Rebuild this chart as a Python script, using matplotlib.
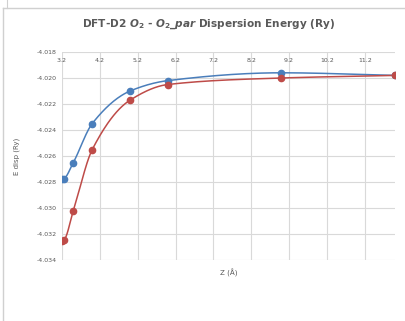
import matplotlib
matplotlib.use('Agg')
import matplotlib.pyplot as plt
import numpy as np

# values
z = [3.2, 3.25, 3.5, 4.0, 5.0, 6.0, 9.0, 12.0]
e_o2 = [-4.02780, -4.02775, -4.02650, -4.02350, -4.02100, -4.02020, -4.01960, -4.01980]
e_o2_par = [-4.03250, -4.03245, -4.03020, -4.02550, -4.02170, -4.02050, -4.02000, -4.01980]
x_ticks = [3.2, 4.2, 5.2, 6.2, 7.2, 8.2, 9.2, 10.2, 11.2]
y_ticks = [-4.034, -4.032, -4.030, -4.028, -4.026, -4.024, -4.022, -4.020, -4.018]

blue = '#4a7ebb'
red = '#be4b48'
text_grey = '#595959'

plt.rcParams['mathtext.fontset'] = 'custom'
plt.rcParams['mathtext.it'] = 'DejaVu Sans:italic:bold'
plt.rcParams['mathtext.rm'] = 'DejaVu Sans:bold'


def smooth(xs, ys, n=40):
    # monotone hermite (pchip style) curve through the points
    xs = np.asarray(xs, float)
    ys = np.asarray(ys, float)
    m = len(xs)
    h = np.diff(xs)
    d = np.diff(ys) / h
    s = np.zeros(m)
    for i in range(1, m - 1):
        if d[i - 1] * d[i] > 0:
            w1 = 2 * h[i] + h[i - 1]
            w2 = h[i] + 2 * h[i - 1]
            s[i] = (w1 + w2) / (w1 / d[i - 1] + w2 / d[i])
    s[0] = d[0]
    s[-1] = d[-1]
    px, py = [], []
    t = np.linspace(0, 1, n)
    h00 = 2 * t ** 3 - 3 * t ** 2 + 1
    h10 = t ** 3 - 2 * t ** 2 + t
    h01 = -2 * t ** 3 + 3 * t ** 2
    h11 = t ** 3 - t ** 2
    for i in range(m - 1):
        px.extend(xs[i] + t * h[i])
        py.extend(h00 * ys[i] + h10 * h[i] * s[i] + h01 * ys[i + 1] + h11 * h[i] * s[i + 1])
    return px, py


fig = plt.figure(figsize=(4.06, 3.21), dpi=100)

# chart frame lines like the spreadsheet screenshot
fig.add_artist(plt.Line2D([3 / 406, 1], [1 - 7.5 / 321] * 2, color='#d0d0d0', lw=1))
fig.add_artist(plt.Line2D([3 / 406] * 2, [0, 1 - 7.5 / 321], color='#d0d0d0', lw=1))
fig.add_artist(plt.Line2D([7 / 406] * 2, [1 - 7.5 / 321, 1], color='#d0d0d0', lw=0.8))

ax = fig.add_axes([62 / 406, 61 / 321, 333 / 406, 208 / 321])

for ys, col in [(e_o2, blue), (e_o2_par, red)]:
    sx, sy = smooth(z, ys)
    ax.plot(sx, sy, color=col, lw=1.1, zorder=3)
    ax.plot(z, ys, 'o', color=col, ms=4.5, mec=col, zorder=4)

ax.set_xlim(3.2, 12.0)
ax.set_ylim(-4.034, -4.018)
ax.set_xticks(x_ticks)
ax.set_xticklabels([f'{v:.1f}' for v in x_ticks])
ax.set_yticks(y_ticks)
ax.set_yticklabels([f'{v:.3f}' for v in y_ticks])
ax.grid(True, color='#d9d9d9', lw=0.8)
ax.set_axisbelow(True)
for s in ax.spines.values():
    s.set_visible(False)
ax.tick_params(axis='both', length=0, labelsize=4.5, labelcolor=text_grey)
ax.tick_params(axis='x', top=False, bottom=False, labeltop=True, labelbottom=False, pad=-8)
ax.tick_params(axis='y', pad=4)

ax.set_xlabel('Z (Å)', fontsize=5, color=text_grey, labelpad=6)
ax.set_ylabel('E disp (Ry)', fontsize=5, color=text_grey, labelpad=12)

fig.text(209 / 406, 1 - 24 / 321, r'DFT-D2 $\mathit{O_2}$ - $\mathit{O_2\_par}$ Dispersion Energy (Ry)',
         ha='center', va='center', fontsize=7.6, fontweight='bold', color=text_grey)

fig.savefig('out.png', dpi=100)
